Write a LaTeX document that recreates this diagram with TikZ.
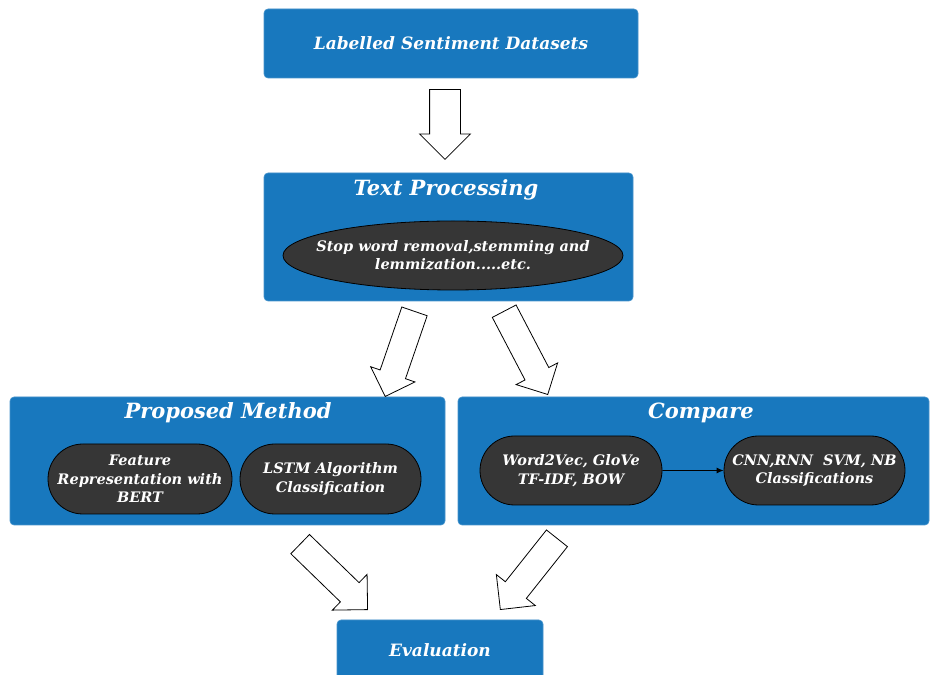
\documentclass[tikz,border=0pt]{standalone}
\usepackage{fontspec}
\setmainfont{DejaVu Serif}
\usetikzlibrary{shapes.misc,shapes.geometric,shapes.arrows,arrows.meta}
\definecolor{panelblue}{HTML}{1878BE}
\definecolor{pilldark}{HTML}{363636}
\tikzset{
  panel/.style={fill=panelblue, draw=panelblue!80!white, line width=0.6pt, rounded corners=4pt, inner sep=0pt},
  paneltext/.style={text=white, font=\bfseries\itshape\fontsize{17}{20}\selectfont},
  title/.style={text=white, font=\bfseries\itshape\fontsize{21}{25}\selectfont},
  pill/.style={rounded rectangle, fill=pilldark, draw=black, line width=0.8pt, inner sep=0pt,
    text=white, align=center, font=\bfseries\itshape\fontsize{14.5}{18.5}\selectfont},
  oval/.style={ellipse, fill=pilldark, draw=black, line width=0.8pt, inner sep=0pt},
  ovaltext/.style={text=white, align=center, font=\bfseries\itshape\fontsize{14.5}{18.5}\selectfont},
  % hollow block arrow: #1 = shaft width, #2 = head width
  blockarrow/.style 2 args={single arrow, draw=black, fill=white, line width=0.8pt,
    inner xsep=0pt, inner ysep=0.5*#1, text height=0pt, text depth=0pt,
    single arrow head extend=0.5*#2-0.5*#1, single arrow tip angle=90,
    allow upside down, sloped, pos=1, anchor=tip},
}
\begin{document}
\begin{tikzpicture}[x=1pt,y=1pt]
\useasboundingbox (0,0) rectangle (930,675);

% panels
\node[panel, minimum width=374, minimum height=69] (data) at (451,631.5) {};
\node[paneltext] at (data) {Labelled Sentiment Datasets};

\node[panel, minimum width=369, minimum height=128] (proc) at (448.5,438) {};
\node[title] (proct) at (446,485) {Text Processing};
\node[oval, minimum width=340, minimum height=69] (stop) at (453,419.5) {};
\node[ovaltext] at (stop) {Stop word removal,stemming and\\lemmization.....etc.};

\node[panel, minimum width=435, minimum height=128] (prop) at (227.5,214) {};
\node[title] (propt) at (228,262) {Proposed Method};
\node[pill, minimum width=184, minimum height=70] (feat) at (140,196)
  {Feature\\Representation with\\BERT};
\node[pill, minimum width=181, minimum height=70] (lstm) at (330.5,196)
  {LSTM Algorithm\\Classification};

\node[panel, minimum width=471, minimum height=128] (cmp) at (693.5,214) {};
\node[title] (cmpt) at (701,262) {Compare};
\node[pill, minimum width=182, minimum height=69] (w2v) at (571,204.5)
  {Word2Vec, GloVe\\TF-IDF, BOW};
\node[pill, minimum width=181, minimum height=69] (cnn) at (814.5,204.5)
  {CNN,RNN\ \ SVM, NB\\Classifications};
\draw[-{Latex[length=7pt,width=6pt]}, line width=0.9pt] (w2v) -- (cnn);

\node[panel, minimum width=206, minimum height=70] (eval) at (440,20) {};
\node[paneltext] at (440,25) {Evaluation};

% hollow block arrows between the stages
\coordinate (a1s) at (445,585); \coordinate (a1e) at (445,515);
\coordinate (a2s) at (416,368); \coordinate (a2e) at (385,278);
\coordinate (a3s) at (502,368); \coordinate (a3e) at (548,280);
\coordinate (a4s) at (299,132); \coordinate (a4e) at (368,65);
\coordinate (a5s) at (558,138); \coordinate (a5e) at (500,65);

\path (a1s) -- (a1e) node[blockarrow={30}{50}, minimum height=70] {};
\path (a2s) -- (a2e) node[blockarrow={26}{46}, minimum height=90] {};
\path (a3s) -- (a3e) node[blockarrow={26}{46}, minimum height=94] {};
\path (a4s) -- (a4e) node[blockarrow={26}{49}, minimum height=94] {};
\path (a5s) -- (a5e) node[blockarrow={26}{49}, minimum height=91] {};
\end{tikzpicture}
\end{document}
